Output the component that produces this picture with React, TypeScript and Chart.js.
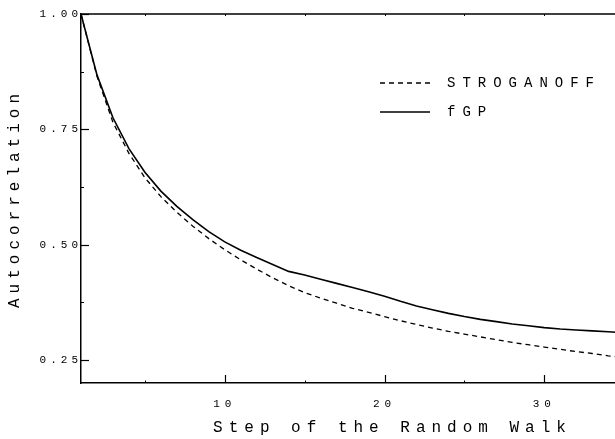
import React, { useEffect, useRef } from 'react';
import { Chart, registerables, LinearScale } from 'chart.js';

Chart.register(...registerables);

// ---- data ----
const steps = [1, 2, 3, 4, 5, 6, 7, 8, 9, 10, 11, 12, 13, 14, 15, 16, 17, 18, 19, 20, 21, 22, 23, 24, 25, 26, 27, 28, 29, 30, 31, 32, 33, 34, 35];
const stroganoff = [1.0, 0.865, 0.765, 0.698, 0.645, 0.604, 0.57, 0.54, 0.513, 0.489, 0.467, 0.447, 0.428, 0.411, 0.396, 0.384, 0.373, 0.362, 0.353, 0.344, 0.335, 0.327, 0.319, 0.312, 0.306, 0.3, 0.294, 0.288, 0.283, 0.278, 0.273, 0.268, 0.264, 0.259, 0.255];
const fgp = [1.0, 0.868, 0.775, 0.708, 0.657, 0.616, 0.583, 0.554, 0.528, 0.506, 0.488, 0.472, 0.457, 0.442, 0.434, 0.425, 0.416, 0.407, 0.398, 0.388, 0.377, 0.367, 0.359, 0.351, 0.344, 0.338, 0.333, 0.328, 0.324, 0.32, 0.317, 0.315, 0.313, 0.311, 0.309];
const seriesLabels = ['STROGANOFF', 'fGP'];
const xMajorTicks = [10, 20, 30];
const xMinorTicks = [5, 15, 25, 35];
const xTopTicks = [5, 10, 15, 20, 25, 30, 35];
const yMajorTicks = [0.25, 0.5, 0.75, 1.0];
const yMinorTicks = [0.375, 0.625, 0.875];
const xTitle = 'Step of the Random Walk';
const yTitle = 'Autocorrelation';

const FONT = '"Liberation Mono", "DejaVu Sans Mono", monospace';
const INK = '#000';

const LABEL_SPACING: Record<string, string> = { x: '5px', y: '4px' };
const TITLE_SPACING: Record<string, string> = { x: '6px', y: '5px' };

class SpacedLinearScale extends (LinearScale as any) {
  static id = 'spacedLinear';
  static defaults = {};
  drawLabels(chartArea: any) {
    const ctx = this.ctx;
    ctx.save();
    ctx.letterSpacing = LABEL_SPACING[this.id] || '0px';
    super.drawLabels(chartArea);
    ctx.restore();
  }
  drawTitle() {
    const ctx = this.ctx;
    ctx.save();
    ctx.letterSpacing = TITLE_SPACING[this.id] || '0px';
    super.drawTitle();
    ctx.restore();
  }
}
Chart.register(SpacedLinearScale as any);

// inward tick marks + top frame line, positioned through the chart's scales
const innerTicksPlugin = {
  id: 'innerTicks',
  afterDraw(chart: any) {
    const ctx = chart.ctx;
    const { left, right, top, bottom } = chart.chartArea;
    const xs = chart.scales.x;
    const ys = chart.scales.y;
    ctx.save();
    ctx.strokeStyle = INK;
    const seg = (x1: number, y1: number, x2: number, y2: number, w: number) => {
      ctx.lineWidth = w;
      ctx.beginPath();
      ctx.moveTo(x1, y1);
      ctx.lineTo(x2, y2);
      ctx.stroke();
    };
    // top frame
    seg(left, top, right, top, 1.5);
    xMajorTicks.forEach((v) => { const p = Math.round(xs.getPixelForValue(v)) + 0.5; seg(p, bottom, p, bottom - 8, 1.2); });
    xMinorTicks.forEach((v) => { const p = Math.round(xs.getPixelForValue(v)) + 0.5; seg(p, bottom, p, bottom - 2.5, 1); });
    xTopTicks.forEach((v) => { const p = Math.round(xs.getPixelForValue(v)) + 0.5; seg(p, top, p, top + 2, 1); });
    yMajorTicks.forEach((v) => { const p = Math.round(ys.getPixelForValue(v)) + 0.5; seg(left, p, left + 8, p, 1.2); });
    yMinorTicks.forEach((v) => { const p = Math.round(ys.getPixelForValue(v)) + 0.5; seg(left, p, left + 3, p, 1); });
    ctx.restore();
  },
};

const legendPlugin = {
  id: 'insideLegend',
  afterDraw(chart: any) {
    const ctx = chart.ctx;
    ctx.save();
    ctx.font = `14px ${FONT}`;
    ctx.letterSpacing = '7px';
    ctx.fillStyle = INK;
    ctx.textBaseline = 'middle';
    ctx.textAlign = 'left';
    chart.data.datasets.forEach((ds: any, i: number) => {
      const y = 83 + i * 29;
      ctx.beginPath();
      ctx.setLineDash(ds.borderDash || []);
      ctx.lineWidth = ds.borderWidth;
      ctx.strokeStyle = ds.borderColor;
      ctx.moveTo(380, y);
      ctx.lineTo(430, y);
      ctx.stroke();
      ctx.setLineDash([]);
      ctx.fillText(ds.label, 447, y);
    });
    ctx.restore();
  },
};

const setTicks = (vals: number[]) => (s: any) => {
  s.ticks = vals.map((v) => ({ value: v }));
};

export default function App() {
  const ref = useRef<HTMLCanvasElement | null>(null);
  useEffect(() => {
    if (!ref.current) return;
    const chart = new Chart(ref.current, {
      type: 'line',
      data: {
        labels: steps,
        datasets: [
          {
            label: seriesLabels[0],
            data: steps.map((s, i) => ({ x: s, y: stroganoff[i] })),
            borderColor: '#000',
            borderWidth: 1.3,
            borderDash: [5, 4],
            pointRadius: 0,
            tension: 0,
            fill: false,
          },
          {
            label: seriesLabels[1],
            data: steps.map((s, i) => ({ x: s, y: fgp[i] })),
            borderColor: '#000',
            borderWidth: 1.6,
            pointRadius: 0,
            tension: 0,
            fill: false,
          },
        ],
      },
      options: {
        responsive: false,
        animation: false,
        layout: { padding: { top: 14, left: 0, right: 0, bottom: 0 } },
        plugins: { legend: { display: false }, tooltip: { enabled: false } },
        scales: {
          x: {
            type: 'spacedLinear' as any,
            position: 'bottom',
            min: 1,
            max: 40,
            afterBuildTicks: setTicks(xMajorTicks),
            afterFit: (s: any) => { s.height = 56; },
            grid: { display: false, drawOnChartArea: false, drawTicks: false },
            border: { display: true, color: INK, width: 1.5 },
            ticks: { padding: 14, color: INK, font: { family: FONT, size: 11 }, maxRotation: 0, autoSkip: false, callback: (v: any) => String(v) },
            title: { display: true, text: xTitle, color: INK, font: { family: FONT, size: 16 }, padding: { top: 0, bottom: 2 } },
          } as any,
          y: {
            type: 'spacedLinear' as any,
            position: 'left',
            min: 0.2,
            max: 1.0,
            afterBuildTicks: setTicks(yMajorTicks),
            afterFit: (s: any) => { s.width = 81; },
            grid: { display: false, drawOnChartArea: false, drawTicks: false },
            border: { display: true, color: INK, width: 1.5 },
            ticks: { padding: -1, color: INK, font: { family: FONT, size: 11 }, autoSkip: false, callback: (v: any) => Number(v).toFixed(2) },
            title: { display: true, text: yTitle, color: INK, font: { family: FONT, size: 16 }, padding: { top: 5, bottom: 0 } },
          } as any,
        },
      },
      plugins: [innerTicksPlugin, legendPlugin],
    });
    return () => chart.destroy();
  }, []);

  return (
    <div style={{ position: 'absolute', left: 0, top: 0, width: 615, height: 439, overflow: 'hidden', background: '#fff' }}>
      <canvas ref={ref} width={704} height={439} style={{ display: 'block', width: 704, height: 439 }} />
    </div>
  );
}
